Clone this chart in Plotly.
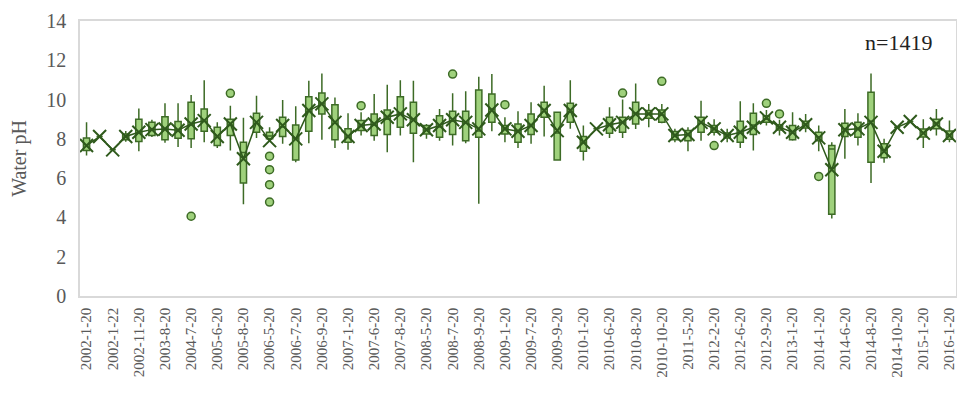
import plotly.graph_objects as go

categories = [
    "2002-1-20", "2002-1-21", "2002-1-22", "2002-8-20", "2002-11-20", "2003-5-20",
    "2003-8-20", "2003-11-20", "2004-7-20", "2005-5-20", "2005-6-20", "2005-7-20",
    "2005-8-20", "2005-11-20", "2006-5-20", "2006-6-20", "2006-7-20", "2006-8-20",
    "2006-9-20", "2006-11-20", "2007-1-20", "2007-5-20", "2007-6-20", "2007-7-20",
    "2007-8-20", "2007-11-20", "2008-5-20", "2008-6-20", "2008-7-20", "2008-8-20",
    "2008-9-20", "2008-11-20", "2009-1-20", "2009-6-20", "2009-7-20", "2009-8-20",
    "2009-9-20", "2009-11-20", "2010-1-20", "2010-5-20", "2010-6-20", "2010-7-20",
    "2010-8-20", "2010-9-20", "2010-10-20", "2011-1-20", "2011-5-20", "2011-11-20",
    "2012-2-20", "2012-5-20", "2012-6-20", "2012-7-20", "2012-9-20", "2012-11-20",
    "2013-1-20", "2013-6-20", "2014-1-20", "2014-5-20", "2014-6-20", "2014-7-20",
    "2014-8-20", "2014-9-20", "2014-10-20", "2014-11-20", "2015-1-20", "2015-6-20",
    "2016-1-20",
]

lower = [7.15, 8.12, 7.44, 7.85, 7.37, 8.10, 7.80, 7.58, 7.54, 7.83,
         7.54, 7.41, 4.67, 8.05, 7.95, 7.75, 6.81, 7.78, 7.95, 7.54,
         7.44, 8.17, 7.91, 7.32, 8.17, 6.81, 8.00, 7.91, 7.66, 7.78,
         4.70, 8.39, 7.83, 7.54, 7.75, 8.12, 6.93, 8.51, 6.90, 8.51,
         8.05, 8.05, 8.50, 8.59, 8.80, 7.83, 7.37, 7.91, 8.17, 7.83,
         7.54, 7.41, 8.68, 8.17, 7.90, 8.34, 7.37, 3.94, 6.99, 7.66,
         5.75, 6.78, 8.59, 8.88, 7.54, 8.17, 7.83]
q1 = [7.41, 8.12, 7.44, 7.95, 7.86, 8.17, 7.95, 8.03, 8.00, 8.39,
      7.66, 8.17, 5.75, 8.34, 8.00, 8.12, 6.93, 8.39, 9.27, 7.95,
      7.83, 8.42, 8.17, 8.22, 8.59, 8.29, 8.25, 8.08, 8.22, 7.91,
      8.08, 8.84, 8.25, 7.83, 8.22, 9.10, 6.93, 8.84, 7.37, 8.51,
      8.29, 8.34, 8.76, 9.05, 8.84, 7.95, 7.91, 8.34, 8.34, 8.05,
      7.83, 8.22, 8.84, 8.45, 7.95, 8.55, 7.91, 4.16, 8.12, 8.08,
      6.81, 7.04, 8.59, 8.88, 8.10, 8.51, 7.98]
median = [7.70, 8.12, 7.44, 8.10, 8.30, 8.50, 8.50, 8.40, 8.70, 8.90,
          8.10, 8.70, 7.30, 8.80, 8.15, 8.60, 8.00, 9.40, 9.80, 8.80,
          8.10, 8.65, 8.70, 9.00, 9.30, 9.00, 8.45, 8.60, 8.90, 8.80,
          8.40, 9.50, 8.50, 8.40, 8.70, 9.50, 8.30, 9.40, 7.80, 8.51,
          8.70, 8.85, 9.30, 9.25, 9.20, 8.20, 8.20, 8.80, 8.50, 8.20,
          8.30, 8.70, 9.00, 8.60, 8.30, 8.70, 8.10, 7.49, 8.50, 8.50,
          8.90, 7.40, 8.59, 8.88, 8.30, 8.80, 8.20]
q3 = [8.05, 8.12, 7.44, 8.25, 9.00, 8.84, 9.13, 8.88, 9.86, 9.52,
      8.59, 9.00, 7.83, 9.30, 8.34, 9.10, 8.71, 10.15, 10.33, 9.74,
      8.51, 8.93, 9.27, 9.47, 10.15, 9.86, 8.68, 9.18, 9.40, 9.40,
      10.49, 10.28, 8.68, 8.76, 9.27, 9.86, 9.35, 9.81, 8.12, 8.51,
      9.10, 9.10, 9.86, 9.45, 9.47, 8.38, 8.42, 9.10, 8.68, 8.30,
      8.90, 9.30, 9.18, 8.72, 8.68, 8.90, 8.34, 7.66, 8.80, 8.84,
      10.37, 7.75, 8.59, 8.88, 8.50, 9.00, 8.40]
upper = [8.84, 8.12, 7.44, 8.40, 9.55, 8.97, 9.81, 9.81, 10.23, 10.99,
         8.84, 9.69, 9.07, 10.20, 8.59, 9.98, 9.66, 10.96, 11.33, 10.11,
         9.30, 9.35, 10.28, 10.76, 10.99, 10.96, 8.76, 9.52, 10.32, 10.42,
         11.16, 11.30, 9.10, 9.40, 9.86, 10.70, 9.35, 10.99, 8.68, 8.51,
         9.61, 10.00, 10.82, 9.78, 9.78, 8.51, 8.59, 9.94, 9.00, 8.51,
         9.91, 9.81, 9.47, 8.97, 9.35, 9.27, 8.68, 7.83, 9.52, 9.30,
         11.33, 8.00, 8.59, 8.88, 9.00, 9.52, 8.93]
mean = [7.66, 8.12, 7.44, 8.12, 8.34, 8.47, 8.50, 8.44, 8.76, 8.93,
        8.12, 8.76, 6.99, 8.84, 7.91, 8.68, 8.00, 9.44, 9.78, 8.84,
        8.12, 8.68, 8.76, 9.10, 9.27, 8.97, 8.46, 8.68, 8.97, 8.84,
        8.51, 9.47, 8.51, 8.39, 8.68, 9.44, 8.42, 9.44, 7.83, 8.51,
        8.72, 8.84, 9.27, 9.27, 9.27, 8.17, 8.22, 8.84, 8.51, 8.17,
        8.34, 8.59, 9.07, 8.59, 8.34, 8.72, 8.05, 6.43, 8.46, 8.51,
        8.84, 7.37, 8.59, 8.88, 8.29, 8.76, 8.17]

outlier_cats = ["2004-7-20", "2005-7-20", "2006-5-20", "2006-5-20", "2006-5-20",
                "2006-5-20", "2007-5-20", "2008-7-20", "2009-1-20", "2010-7-20",
                "2010-10-20", "2012-2-20", "2012-9-20", "2012-11-20", "2014-1-20"]
outlier_vals = [4.06, 10.32, 7.12, 6.43, 5.67,
                4.78, 9.69, 11.30, 9.74, 10.33,
                10.93, 7.66, 9.81, 9.27, 6.09]

tick_labels = categories[::2]
n_label = "n=1419"

FILL = "#9fd17c"
EDGE = "#3d6b26"
DARK = "#2f5a1c"
FONT = "Times New Roman, Liberation Serif, serif"

fig = go.Figure()
fig.add_trace(go.Box(
    x=categories, q1=q1, median=median, q3=q3,
    lowerfence=lower, upperfence=upper,
    fillcolor=FILL, line=dict(color=EDGE, width=1.5),
    whiskerwidth=0, boxpoints=False, showlegend=False,
))
fig.add_trace(go.Scatter(
    x=categories, y=mean, mode="lines+markers",
    line=dict(color=DARK, width=1.5),
    marker=dict(symbol="x-thin", size=13, line=dict(color=DARK, width=2)),
    showlegend=False,
))
fig.add_trace(go.Scatter(
    x=outlier_cats, y=outlier_vals, mode="markers",
    marker=dict(symbol="circle", size=8, color=FILL, line=dict(color=EDGE, width=1.5)),
    showlegend=False,
))

fig.update_layout(
    width=957, height=408,
    margin=dict(l=80, r=1, t=21, b=112),
    paper_bgcolor="white", plot_bgcolor="white",
    font=dict(family=FONT, color="#595959"),
    boxgap=0.32,
    xaxis=dict(
        type="category", categoryorder="array", categoryarray=categories,
        range=[-0.5, len(categories) - 0.5], automargin=False,
        tickmode="array", tickvals=tick_labels, ticktext=tick_labels,
        tickangle=-90, tickfont=dict(family=FONT, size=15, color="#595959"),
        ticklabelstandoff=4,
        showgrid=False, showline=True, linecolor="#d9d9d9", linewidth=1.5,
        mirror=True, ticks="", zeroline=False,
    ),
    yaxis=dict(
        range=[0, 14], dtick=2, tick0=0, automargin=False,
        tickfont=dict(family=FONT, size=20, color="#595959"),
        ticklabelstandoff=8,
        showgrid=False, showline=True, linecolor="#d9d9d9", linewidth=1.5,
        mirror=True, ticks="", zeroline=False,
        title=dict(text="Water pH", font=dict(family=FONT, size=20, color="#595959"), standoff=14),
    ),
    annotations=[dict(
        text=n_label, x=0.934, y=0.92, xref="paper", yref="paper",
        xanchor="center", yanchor="middle",
        showarrow=False, font=dict(family=FONT, size=22, color="#222222"),
    )],
)

fig.write_html("out.html", config={"displayModeBar": False},
               post_script="document.body.style.margin='0';document.body.style.padding='0';")
